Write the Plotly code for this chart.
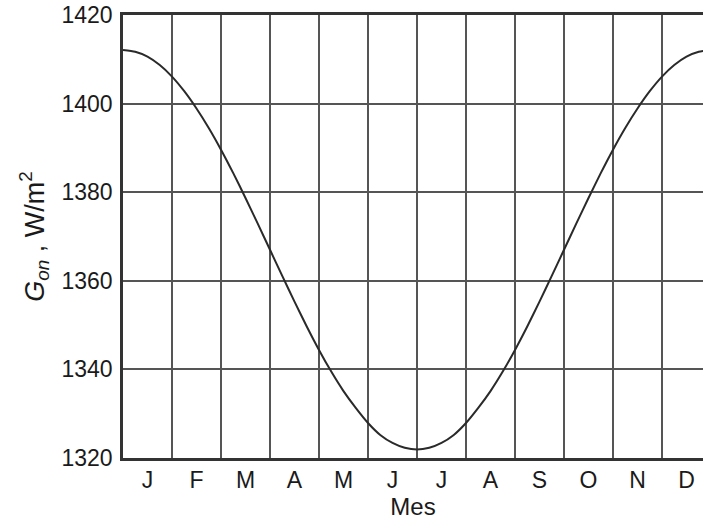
import plotly.graph_objects as go

# Month position (0 = 1 Jan, 1 month per unit) and read values of G_on (W/m^2)
month_pos = [0, 0.25, 0.5, 0.75, 1, 1.25, 1.5, 1.75, 2, 2.25, 2.5, 2.75,
             3, 3.25, 3.5, 3.75, 4, 4.25, 4.5, 4.75, 5, 5.25, 5.5, 5.75,
             6, 6.25, 6.5, 6.75, 7, 7.25, 7.5, 7.75, 8, 8.25, 8.5, 8.75,
             9, 9.25, 9.5, 9.75, 10, 10.25, 10.5, 10.75, 11, 11.25, 11.5, 11.75, 12]
g_on = [1412.1, 1411.7, 1410.6, 1408.7, 1406.1, 1402.8, 1398.9, 1394.5, 1389.6, 1384.3, 1378.7, 1372.9,
        1367.0, 1361.1, 1355.3, 1349.7, 1344.4, 1339.5, 1335.1, 1331.3, 1327.9, 1325.2, 1323.4, 1322.3,
        1321.9, 1322.3, 1323.4, 1325.2, 1327.9, 1331.3, 1335.1, 1339.5, 1344.4, 1349.7, 1355.3, 1361.1,
        1367.0, 1372.9, 1378.7, 1384.3, 1389.6, 1394.5, 1398.9, 1402.8, 1406.1, 1408.7, 1410.6, 1411.7, 1412.1]
month_labels = ["J", "F", "M", "A", "M", "J", "J", "A", "S", "O", "N", "D"]
month_centers = [i + 0.5 for i in range(12)]
month_bounds = list(range(13))
y_ticks = [1320, 1340, 1360, 1380, 1400, 1420]

fig = go.Figure()
fig.add_trace(go.Scatter(x=month_pos, y=g_on, mode="lines",
                         line=dict(color="#2a2a2a", width=2, shape="spline", smoothing=0.6),
                         hoverinfo="skip", showlegend=False))

fig.update_layout(
    width=703, height=525,
    margin=dict(l=123, r=0, t=15, b=67),
    paper_bgcolor="white", plot_bgcolor="white",
    font=dict(family="Liberation Sans, Arial, sans-serif", color="#1a1a1a"),
)
fig.update_xaxes(
    range=[0, 580 / 49], tickmode="array", tickvals=month_centers, ticktext=month_labels,
    tickfont=dict(size=23, color="#1a1a1a"), ticks="", showgrid=False, zeroline=False,
    showline=True, linecolor="#333", linewidth=2.5, mirror=True,
    minor=dict(tickmode="array", tickvals=month_bounds, showgrid=True,
               gridcolor="#555", gridwidth=1.6, ticks=""),
    title=dict(text="Mes", font=dict(size=24, color="#1a1a1a"), standoff=5),
)
fig.update_yaxes(
    range=[1320, 1420], tickmode="array", tickvals=y_ticks,
    tickfont=dict(size=23, color="#1a1a1a"), ticks="", ticklabelstandoff=3,
    showgrid=True, gridcolor="#555", gridwidth=1.6, zeroline=False,
    showline=True, linecolor="#333", linewidth=2.5, mirror=False,
    title=dict(text="<i>G<sub>on</sub></i> , W/m<sup>2</sup>",
               font=dict(size=27, color="#1a1a1a"), standoff=10),
)

fig.write_html("out.html", config={"displayModeBar": False},
               post_script="document.body.style.margin='0';document.body.style.overflow='hidden';")
